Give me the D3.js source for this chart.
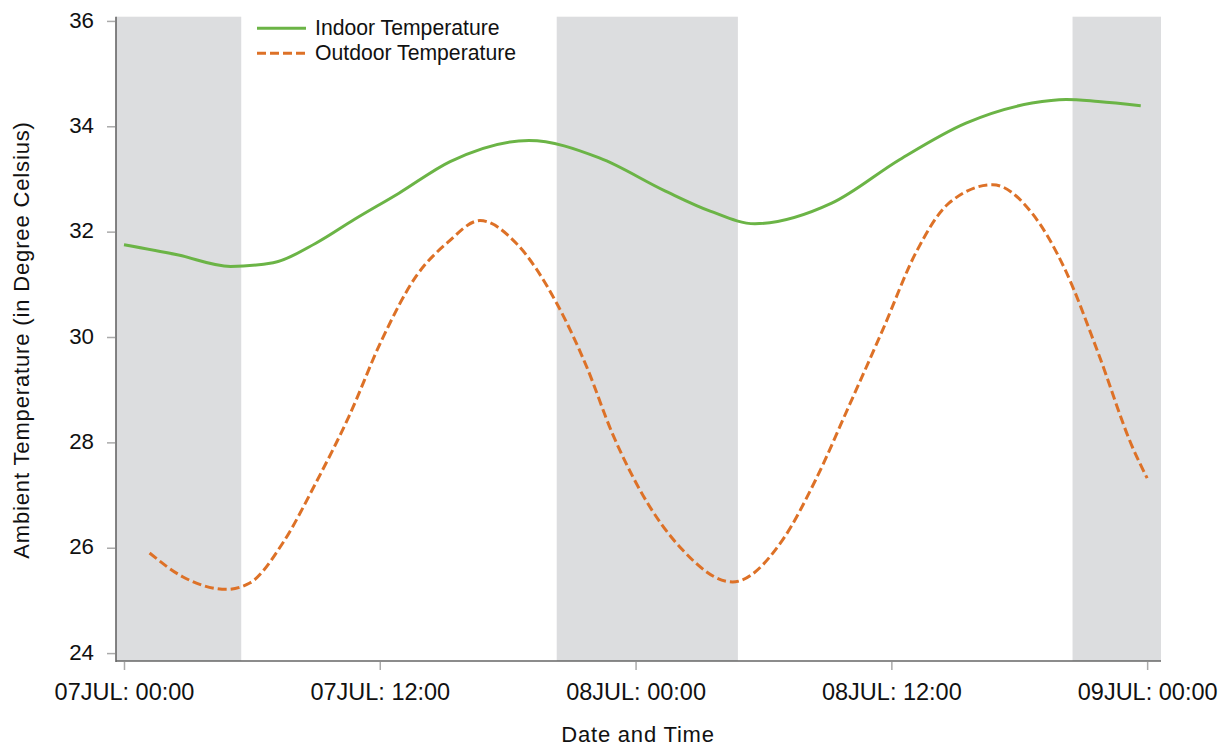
<!DOCTYPE html>
<html>
<head>
<meta charset="utf-8">
<script src="https://cdn.jsdelivr.net/npm/d3@7"></script>
<style>
  html, body { margin: 0; padding: 0; background: #fff; }
  svg { display: block; font-family: "Liberation Sans", Arial, Helvetica, sans-serif; }
</style>
</head>
<body>
<svg id="chart" width="1227" height="746"></svg>
<script>
// ---- data (hours after 07 JUL 00:00) ----
const indoorHours = [0, 2.5, 5.0, 7.0, 9.0, 10.8, 12.9, 15.3, 19.0, 22.3, 25.4, 27.5, 29.6, 33.2, 36.4, 39.5, 42.6, 44.2, 45.7, 47.7];
const indoorTemps = [31.75, 31.56, 31.34, 31.41, 31.78, 32.23, 32.73, 33.33, 33.73, 33.40, 32.77, 32.39, 32.15, 32.54, 33.37, 34.06, 34.44, 34.51, 34.47, 34.39];
const outdoorHours = [1.2, 2.75, 4.8, 5.9, 7.45, 9.0, 10.55, 12.1, 13.7, 15.2, 16.7, 18.4, 20.3, 21.7, 22.9, 24.2, 26.2, 28.55, 30.9, 32.45, 34.0, 35.6, 37.15, 38.7, 40.75, 42.6, 44.15, 45.7, 47.3, 48.0];
const outdoorTemps = [25.90, 25.45, 25.21, 25.33, 26.09, 27.23, 28.49, 29.95, 31.15, 31.80, 32.21, 31.78, 30.64, 29.44, 28.18, 27.10, 25.96, 25.35, 26.15, 27.29, 28.68, 30.14, 31.60, 32.54, 32.89, 32.35, 31.28, 29.70, 27.92, 27.32];
const nightStarts = [-0.4, 20.3, 44.5];
const nightEnds = [5.5, 28.8, 48.7];
const xTickHours = [0, 12, 24, 36, 48];
const yTicks = [24, 26, 28, 30, 32, 34, 36];
const seriesNames = ["Indoor Temperature", "Outdoor Temperature"];
const xTitle = "Date and Time";
const yTitle = "Ambient Temperature (in Degree Celsius)";

// ---- helpers ----
const t0 = Date.UTC(2019, 6, 7, 0, 0);
const toDate = h => new Date(t0 + h * 3600e3);
const months = ["JAN","FEB","MAR","APR","MAY","JUN","JUL","AUG","SEP","OCT","NOV","DEC"];
const fmt = d => d3.utcFormat("%d")(d) + months[d.getUTCMonth()] + ": " + d3.utcFormat("%H:%M")(d);

const svg = d3.select("#chart");
const pLeft = 116, pRight = 1161, pTop = 16.7, pBottom = 661;

const x = d3.scaleUtc().domain([toDate(-0.375), toDate(48.65)]).range([pLeft, pRight]);
const y = d3.scaleLinear().domain([23.85, 36.08]).range([pBottom, pTop]);

// night bands
svg.append("g").selectAll("rect")
  .data(nightStarts.map((s, i) => [Math.max(s, -0.375), Math.min(nightEnds[i], 48.65)]))
  .join("rect")
  .attr("x", d => x(toDate(d[0])))
  .attr("width", d => x(toDate(d[1])) - x(toDate(d[0])))
  .attr("y", pTop)
  .attr("height", pBottom - pTop)
  .attr("fill", "#dcdddf");

// lines
const line = d3.line().x(d => x(toDate(d[0]))).y(d => y(d[1])).curve(d3.curveMonotoneX);
const green = "#6bb446", orange = "#dd7127";
svg.append("path")
  .datum(indoorHours.map((h, i) => [h, indoorTemps[i]]))
  .attr("d", line).attr("fill", "none").attr("stroke", green).attr("stroke-width", 3);
svg.append("path")
  .datum(outdoorHours.map((h, i) => [h, outdoorTemps[i]]))
  .attr("d", line).attr("fill", "none").attr("stroke", orange).attr("stroke-width", 3)
  .attr("stroke-dasharray", "9,4");

// axes
const xAxis = d3.axisBottom(x).tickValues(xTickHours.map(toDate)).tickFormat(fmt).tickSize(8).tickSizeOuter(0);
const gx = svg.append("g").attr("transform", `translate(0,${pBottom + 1})`).call(xAxis);
gx.select(".domain").remove();
gx.selectAll(".tick line").attr("stroke", "#aaa").attr("stroke-width", 1.5);
gx.selectAll(".tick text").attr("fill", "#111").attr("y", 21.5)
  .style("font-size", "23.5px").style("font-family", "'Liberation Sans', Arial, sans-serif");

const yAxis = d3.axisLeft(y).tickValues(yTicks).tickSize(8).tickPadding(13).tickSizeOuter(0);
const gy = svg.append("g").attr("transform", `translate(${pLeft - 1},0)`).call(yAxis);
gy.select(".domain").remove();
gy.selectAll(".tick line").attr("stroke", "#aaa").attr("stroke-width", 1.5);
gy.selectAll(".tick text").attr("fill", "#111").attr("dy", "0.28em")
  .style("font-size", "22.3px").style("font-family", "'Liberation Sans', Arial, sans-serif");

// axis lines
svg.append("line").attr("x1", pLeft).attr("x2", pLeft).attr("y1", pTop).attr("y2", pBottom + 1)
  .attr("stroke", "#666").attr("stroke-width", 1.6);
svg.append("line").attr("x1", pLeft).attr("x2", pRight).attr("y1", pBottom).attr("y2", pBottom)
  .attr("stroke", "#666").attr("stroke-width", 1.6);

// titles
svg.append("text").attr("x", 638).attr("y", 742).attr("text-anchor", "middle")
  .attr("font-size", 22).attr("letter-spacing", "0.8px").attr("fill", "#111").text(xTitle);
svg.append("text").attr("transform", "translate(29,340) rotate(-90)").attr("text-anchor", "middle")
  .attr("font-size", 22).attr("letter-spacing", "0.85px").attr("fill", "#111").text(yTitle);

// legend
const lg = svg.append("g");
const lgY = [28.3, 53.3];
const lgColors = [green, orange];
const lgDash = [null, "9,4"];
seriesNames.forEach((name, i) => {
  lg.append("line").attr("x1", 257).attr("x2", 306).attr("y1", lgY[i]).attr("y2", lgY[i])
    .attr("stroke", lgColors[i]).attr("stroke-width", 3).attr("stroke-dasharray", lgDash[i]);
  lg.append("text").attr("x", 315).attr("y", lgY[i] + 7).attr("font-size", 21.2).attr("fill", "#111").text(name);
});
</script>
</body>
</html>
